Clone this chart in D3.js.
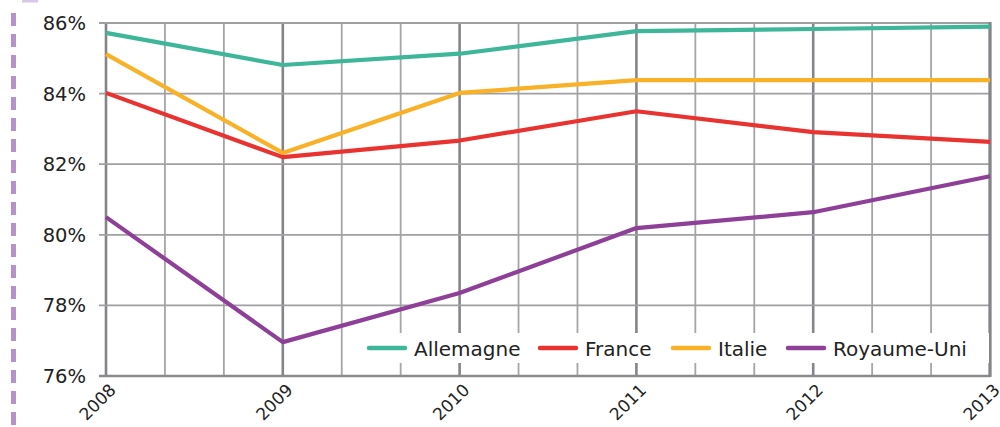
<!DOCTYPE html>
<html>
<head>
<meta charset="utf-8">
<script src="https://cdn.jsdelivr.net/npm/d3@7"></script>
<style>
body { margin: 0; background: #fff; }
text { font-family: "DejaVu Sans", sans-serif; fill: #222; }
</style>
</head>
<body>
<script>
const years = [2008, 2009, 2010, 2011, 2012, 2013];
const yTicks = [76, 78, 80, 82, 84, 86];
const countries = ["Allemagne", "France", "Italie", "Royaume-Uni"];
const allemagne = [85.72, 84.81, 85.13, 85.77, 85.83, 85.9];
const france = [84.02, 82.2, 82.67, 83.5, 82.91, 82.63];
const italie = [85.12, 82.32, 84.02, 84.38, 84.38, 84.38];
const royaumeUni = [80.5, 76.96, 78.35, 80.19, 80.64, 81.66];
const colors = ["#3db69a", "#e93330", "#f9b128", "#8e3f97"];

const series = [allemagne, france, italie, royaumeUni];

const width = 1000, height = 427;
const svg = d3.select("body").append("svg")
	.attr("width", width)
	.attr("height", height);

const x = d3.scaleLinear().domain([2008, 2013]).range([106, 990]);
const y = d3.scaleLinear().domain([76, 86]).range([376, 23]);

// decoration on the left
svg.append("rect").attr("x", 22).attr("y", 0).attr("width", 16).attr("height", 2.5).attr("fill", "#d9c7e6");
svg.append("line")
	.attr("x1", 13.5).attr("x2", 13.5).attr("y1", 13).attr("y2", 427)
	.attr("stroke", "#b592cc").attr("stroke-width", 5)
	.attr("stroke-dasharray", "13 8");

// vertical grid: a line every third of a year
const vGrid = d3.range(0, 16).map(i => 2008 + i / 3);
svg.append("g").selectAll("line")
	.data(vGrid)
	.enter().append("line")
	.attr("x1", d => x(d)).attr("x2", d => x(d))
	.attr("y1", y(86)).attr("y2", y(76))
	.attr("stroke", (d, i) => i % 3 === 0 ? "#858589" : "#a5a5a8")
	.attr("stroke-width", (d, i) => i % 3 === 0 ? 2.6 : 1.8);

// horizontal grid
svg.append("g").selectAll("line")
	.data(yTicks)
	.enter().append("line")
	.attr("x1", 99).attr("x2", 990)
	.attr("y1", d => y(d)).attr("y2", d => y(d))
	.attr("stroke", d => d === 76 ? "#8a8a8e" : "#a0a0a3")
	.attr("stroke-width", d => d === 76 ? 2.6 : 1.8);

svg.append("line")
	.attr("x1", x(2013)).attr("x2", x(2013)).attr("y1", y(86) - 1).attr("y2", y(76) + 1)
	.attr("stroke", "#858589").attr("stroke-width", 3);

// y labels
svg.append("g").selectAll("text")
	.data(yTicks)
	.enter().append("text")
	.attr("x", 86).attr("y", d => y(d) + 7)
	.attr("text-anchor", "end")
	.attr("font-size", 19.5)
	.text(d => d + "%");

// x labels
svg.append("g").selectAll("text")
	.data(years)
	.enter().append("text")
	.attr("transform", d => `translate(${x(d) + 11},${391}) rotate(-45)`)
	.attr("text-anchor", "end")
	.attr("font-size", 17)
	.text(d => d);

// legend background
const legend = svg.append("g");
legend.append("rect")
	.attr("x", 362).attr("y", 333).attr("width", 627).attr("height", 30)
	.attr("fill", "#fff");

// lines
const line = d3.line().x((d, i) => x(years[i])).y(d => y(d));
svg.append("g").selectAll("path")
	.data(series)
	.enter().append("path")
	.attr("d", line)
	.attr("fill", "none")
	.attr("stroke", (d, i) => colors[i])
	.attr("stroke-width", 4.2)
	.attr("stroke-linejoin", "round");

const legendX = [369, 540, 673, 788];
countries.forEach((c, i) => {
	legend.append("line")
		.attr("x1", legendX[i]).attr("x2", legendX[i] + 36)
		.attr("y1", 348).attr("y2", 348)
		.attr("stroke", colors[i]).attr("stroke-width", 4.5)
		.attr("stroke-linecap", "round");
	legend.append("text")
		.attr("x", legendX[i] + 45).attr("y", 356)
		.attr("font-size", 20)
		.text(c);
});
</script>
</body>
</html>
